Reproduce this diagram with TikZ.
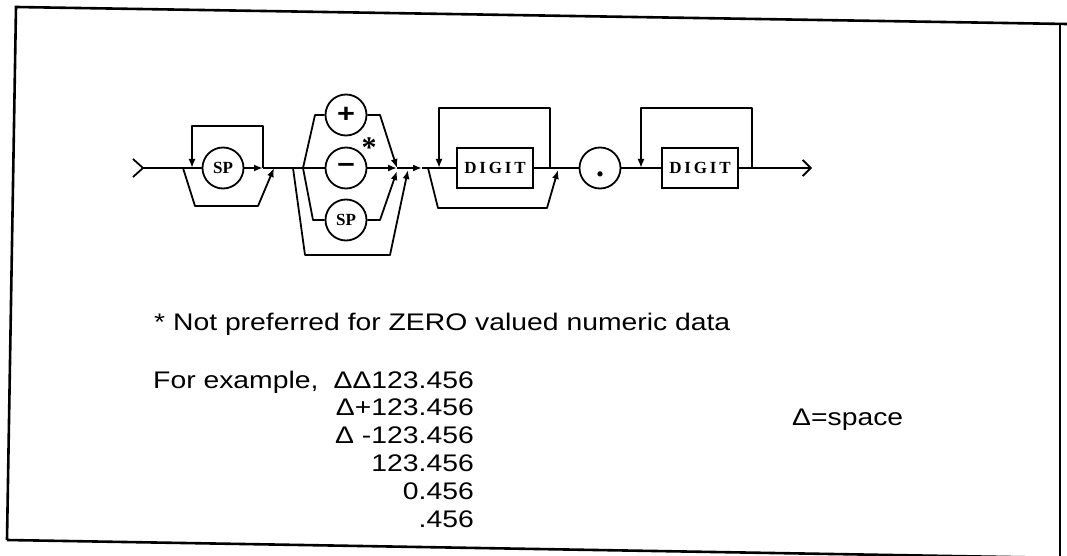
\documentclass[tikz,border=0pt]{standalone}
\usepackage{fontspec}
\setmainfont[FakeStretch=1.18]{Liberation Sans}
\newfontfamily\railfont{Liberation Serif}
\usetikzlibrary{arrows.meta}
\tikzset{
  rail/.style    = {line width=1.8pt, line join=round},
  railarr/.style = {rail, -{Latex[length=9pt,width=7pt]}},
  exitarr/.style = {rail, -{Straight Barb[length=8pt,width=16pt]}},
  termc/.style   = {draw, circle, line width=1.8pt, minimum size=41pt, inner sep=0pt,
                    font=\railfont\bfseries\fontsize{17}{17}\selectfont},
  signc/.style   = {termc, font=\bfseries\fontsize{26}{26}\selectfont},
  termb/.style   = {draw, rectangle, line width=1.8pt, minimum width=76pt, minimum height=40pt,
                    inner sep=0pt, font=\railfont\bfseries\fontsize{17}{17}\selectfont},
  note/.style    = {font=\fontsize{24}{24}\selectfont, inner sep=0pt}
}

\begin{document}
\begin{tikzpicture}[x=1pt,y=-1pt]
  \clip (0,0) rectangle (1067,556);
  % frame (scanned slightly askew)
  \draw[line width=2.6pt] (7,540) -- (16,7) -- (1067,24);
  \draw[line width=2.6pt] (7,540) -- (1067,558);
  \draw[line width=2.6pt] (1060,23) -- (1060,556);

  % ---- entry and optional leading spaces
  \coordinate (in) at (143,168);
  \draw[rail] (in) ++(-10,-9) -- (in) -- ++(-10,9);
  \node[termc] (sp1) at (223,168) {SP};
  \draw[rail] (in) -- (sp1.west);
  \coordinate (l1a) at (192,168); \coordinate (l1b) at (192,126);
  \coordinate (l1c) at (263,126); \coordinate (l1d) at (263,168);
  \draw[railarr] (sp1.east) -- (l1d);
  \draw[railarr] (l1d) -- (l1c) -- (l1b) -- (l1a);
  \coordinate (s1a) at (183,168); \coordinate (s1b) at (195,206);
  \coordinate (s1c) at (258,206); \coordinate (s1d) at (274,168);
  \draw[railarr] (s1a) -- (s1b) -- (s1c) -- (s1d);

  % ---- sign
  \coordinate (b0) at (293,168); \coordinate (b1) at (303,168);
  \draw[rail] (l1d) -- (b1);
  \node[signc] (plus)  at (346,115) {+};
  \node[signc] (minus) at (346,168) {−};
  \node[termc] (sp2)   at (346,220) {SP};
  \node[font=\railfont\bfseries\fontsize{30}{30}\selectfont, inner sep=0pt] (ast) at (369,148) {*};
  \coordinate (m1) at (397,168);
  \coordinate (p1) at (315,115); \coordinate (p2) at (380,115);
  \coordinate (q1) at (313,220); \coordinate (q2) at (380,220);
  \draw[rail] (b1) -- (p1) -- (plus.west);
  \draw[rail] (b1) -- (minus.west);
  \draw[rail] (b1) -- (q1) -- (sp2.west);
  \draw[railarr] (plus.east) -- (p2) -- (m1);
  \draw[railarr] (minus.east) -- (m1);
  \draw[railarr] (sp2.east) -- (q2) -- (397,171);
  \coordinate (o1) at (305,255); \coordinate (o2) at (390,255); \coordinate (o3) at (408,170);
  \draw[railarr] (b0) -- (o1) -- (o2) -- (o3);
  \coordinate (a2) at (422,168);
  \draw[railarr] (m1) -- (a2);

  % ---- integer digits
  \node[termb] (dig1) at (495,168) {D\,I\,G\,I\,T};
  \draw[rail] (a2) -- (dig1.west);
  \coordinate (d1a) at (550,168); \coordinate (d1b) at (550,108);
  \coordinate (d1c) at (439,108); \coordinate (d1d) at (439,168);
  \draw[railarr] (d1a) -- (d1b) -- (d1c) -- (d1d);
  \coordinate (e1a) at (428,168); \coordinate (e1b) at (438,208);
  \coordinate (e1c) at (547,208); \coordinate (e1d) at (558,170);
  \draw[railarr] (e1a) -- (e1b) -- (e1c) -- (e1d);

  % ---- decimal point and fraction digits
  \node[termc, font=\railfont\bfseries\fontsize{32}{32}\selectfont,
        text height=17pt, text depth=0pt] (dot) at (600,168) {.};
  \draw[rail] (dig1.east) -- (dot.west);
  \node[termb] (dig2) at (700,168) {D\,I\,G\,I\,T};
  \draw[rail] (dot.east) -- (dig2.west);
  \coordinate (d2a) at (752,168); \coordinate (d2b) at (752,108);
  \coordinate (d2c) at (641,108); \coordinate (d2d) at (641,168);
  \draw[railarr] (d2a) -- (d2b) -- (d2c) -- (d2d);
  \coordinate (out) at (812,168);
  \draw[exitarr] (dig2.east) -- (out);

  % ---- notes
  \node[note, anchor=base west] (star) at (154,330) {* Not preferred for ZERO valued numeric data};
  \node[note, anchor=base west] (forex) at (153,388) {For example,};
  \foreach \t [count=\i] in {ΔΔ123.456, Δ+123.456, Δ -123.456, 123.456, 0.456, .456}
    \node[note, anchor=base east] (ex\i) at ({474},{388+27.8*(\i-1)}) {\t};
  \node[note, anchor=base west] (delta) at (792,425) {Δ=space};
\end{tikzpicture}
\end{document}
